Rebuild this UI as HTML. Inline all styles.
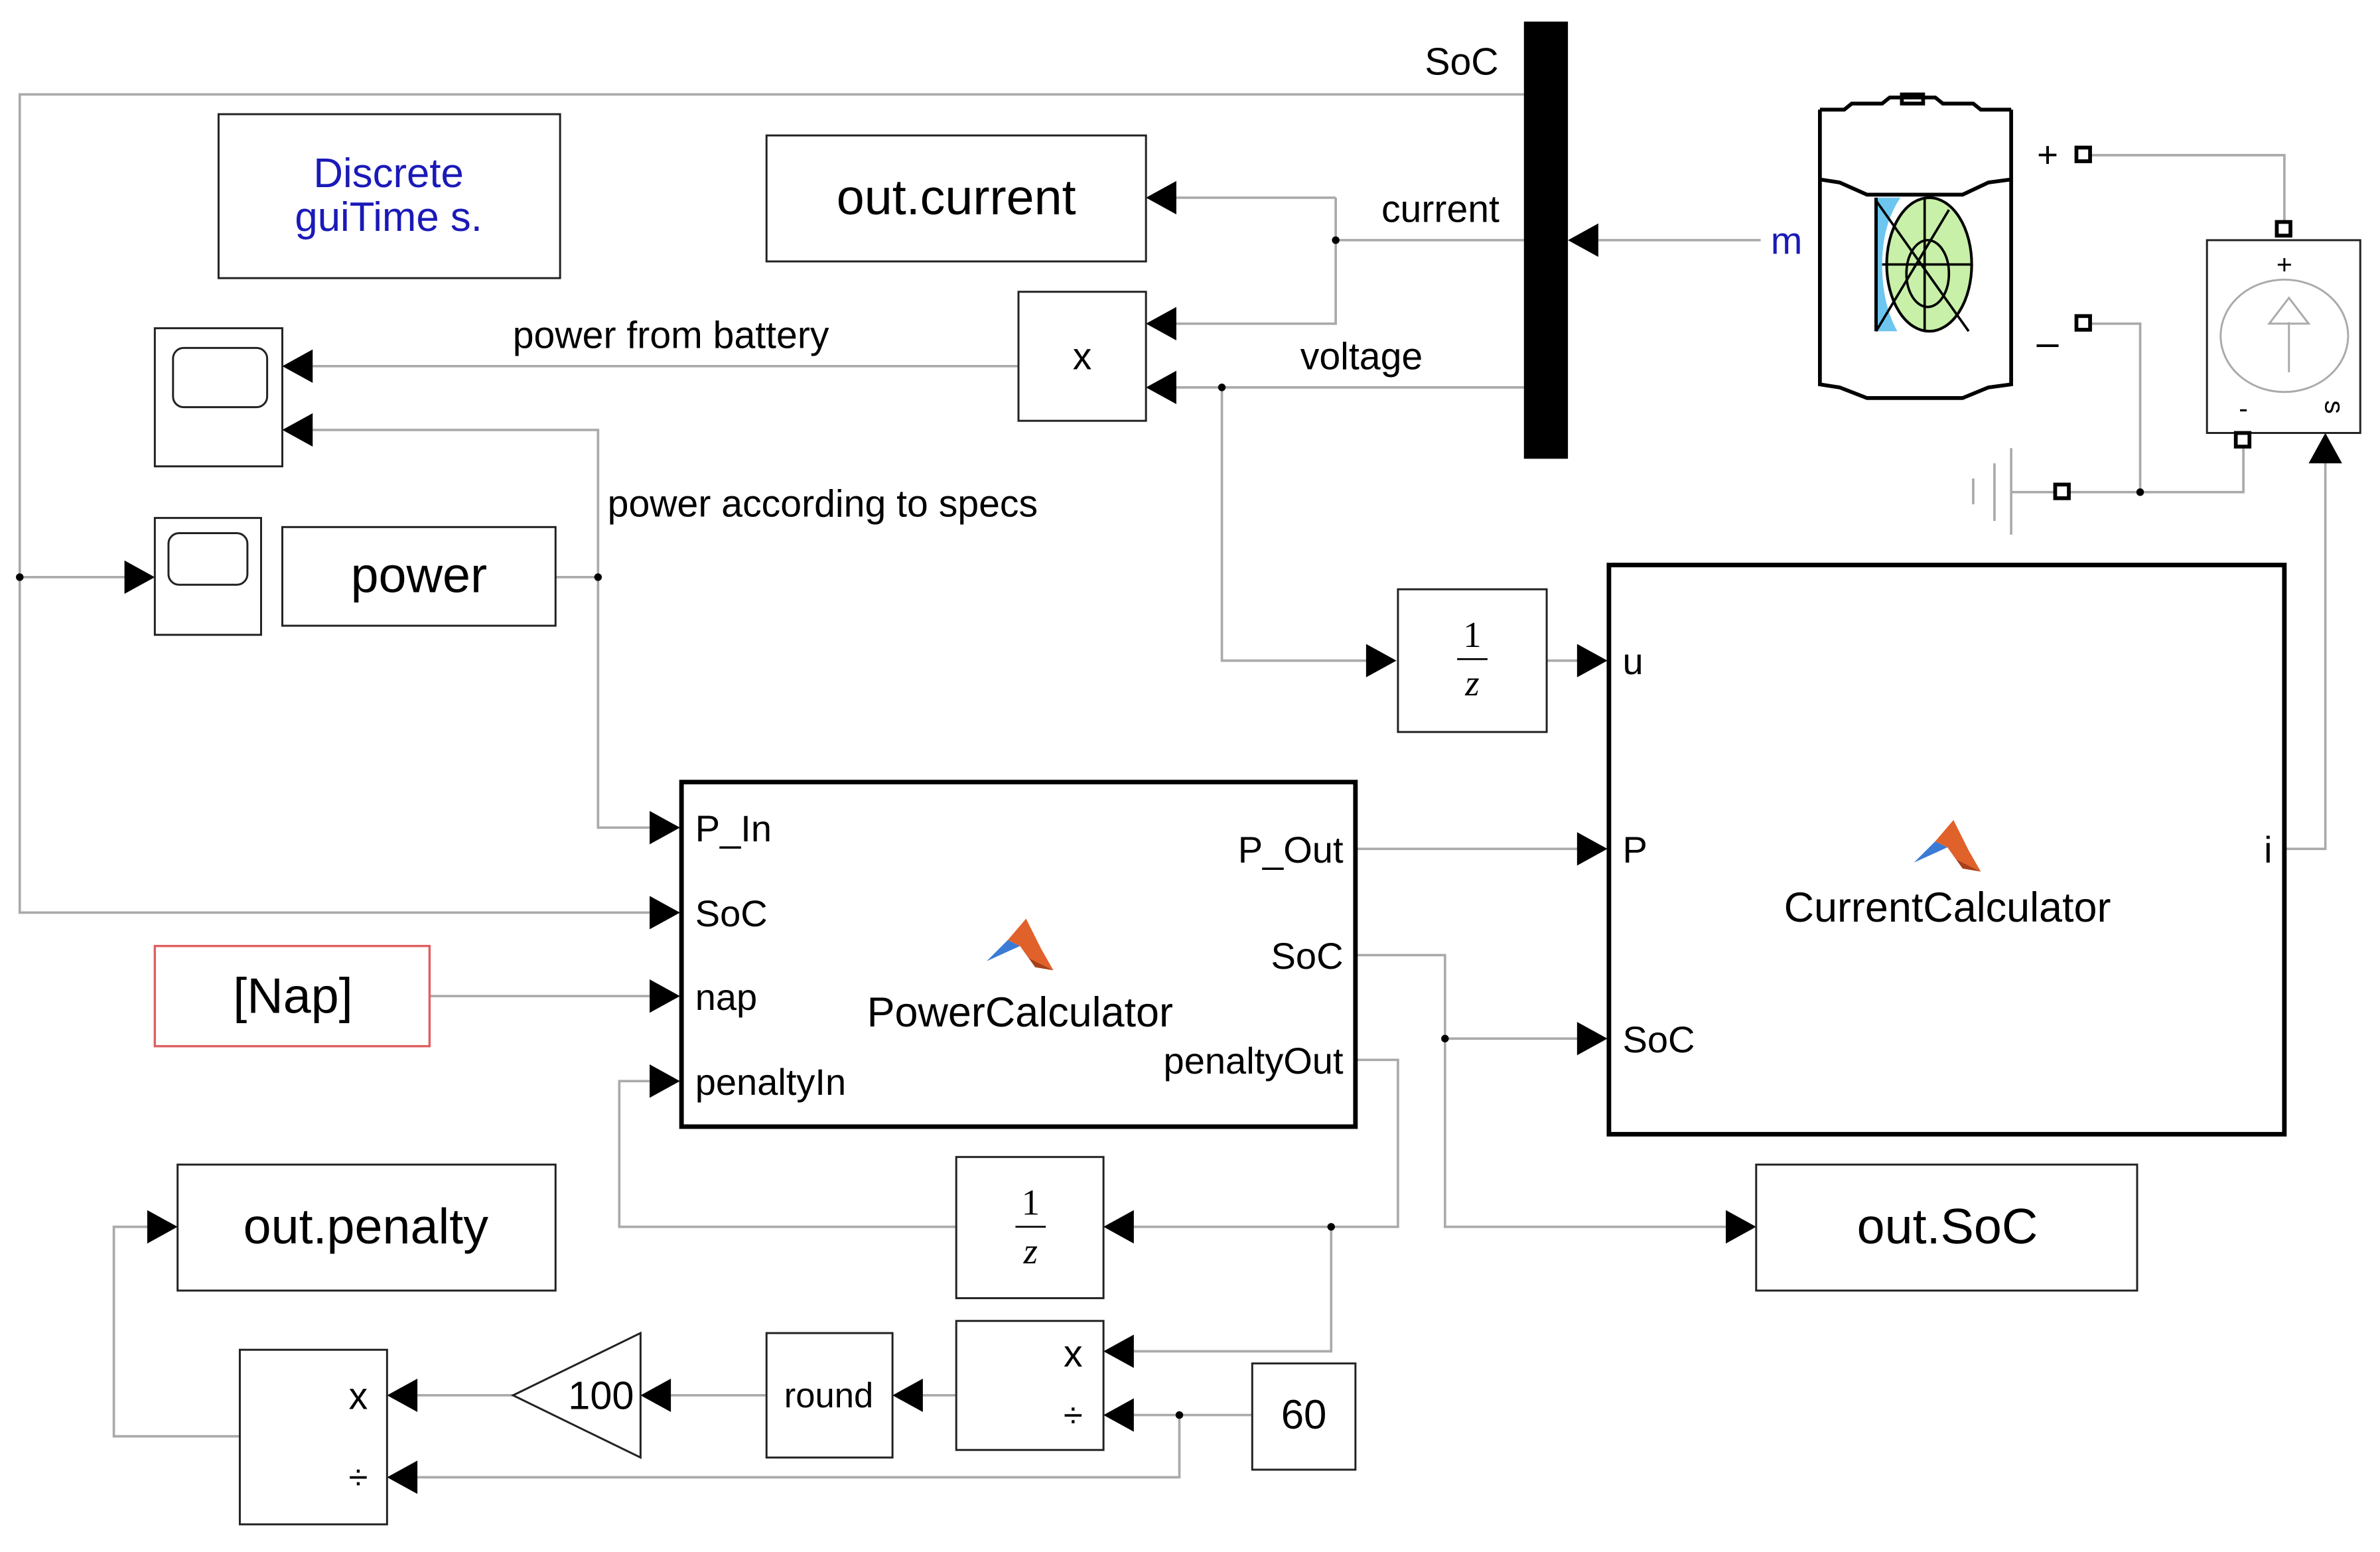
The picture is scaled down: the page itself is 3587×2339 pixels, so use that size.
<!DOCTYPE html>
<html><head><meta charset="utf-8"><style>html,body{margin:0;padding:0;background:#fff}svg{display:block}</style></head>
<body>
<svg width="3587" height="2339" viewBox="0 0 1568 1022" xmlns="http://www.w3.org/2000/svg" font-family="Liberation Sans, sans-serif">
<g fill="none" stroke="#aaa" stroke-width="1.6">
<polyline points="1004,62 13,62 13,601 430,601"/>
<polyline points="13,380 84,380"/>
<polyline points="1004,158 880,158"/>
<polyline points="1053,158 1160,158"/>
<polyline points="880,130 775,130"/>
<polyline points="880,130 880,213 775,213"/>
<polyline points="1004,255 775,255"/>
<polyline points="805,255 805,435 902,435"/>
<polyline points="671,241 206,241"/>
<polyline points="366,380 394,380 394,283 206,283"/>
<polyline points="394,380 394,545 430,545"/>
<polyline points="283,656 430,656"/>
<polyline points="893,559 1041,559"/>
<polyline points="893,629 952,629 952,808 1139,808"/>
<polyline points="952,684 1041,684"/>
<polyline points="893,698 921,698 921,808 747,808"/>
<polyline points="877,808 877,890 747,890"/>
<polyline points="630,808 408,808 408,712 430,712"/>
<polyline points="1019,435 1041,435"/>
<polyline points="1505,559 1532,559 1532,302"/>
<polyline points="1377,102 1505,102 1505,147"/>
<polyline points="1377,213 1410,213 1410,324"/>
<polyline points="1325,324 1354,324"/>
<polyline points="1362,324 1478,324 1478,294"/>
<line x1="1325" y1="295" x2="1325" y2="352"/>
<line x1="1314" y1="305" x2="1314" y2="343"/>
<line x1="1300" y1="315" x2="1300" y2="332"/>
<polyline points="630,919 608,919"/>
<polyline points="505,919 442,919"/>
<polyline points="338,919 275,919"/>
<polyline points="825,932 747,932"/>
<polyline points="777,932 777,973 275,973"/>
<polyline points="158,946 75,946 75,808 99,808"/>
</g>
<g fill="#000">
<circle cx="13" cy="380" r="2.5"/><circle cx="880" cy="158" r="2.5"/><circle cx="805" cy="255" r="2.5"/>
<circle cx="394" cy="380" r="2.5"/><circle cx="952" cy="684" r="2.5"/><circle cx="877" cy="808" r="2.5"/>
<circle cx="777" cy="932" r="2.5"/><circle cx="1410" cy="324" r="2.5"/>
<polygon points="428,590 448,601 428,612"/>
<polygon points="82,369 102,380 82,391"/>
<polygon points="900,424 920,435 900,446"/>
<polygon points="428,534 448,545 428,556"/>
<polygon points="428,645 448,656 428,667"/>
<polygon points="428,701 448,712 428,723"/>
<polygon points="1039,548 1059,559 1039,570"/>
<polygon points="1039,673 1059,684 1039,695"/>
<polygon points="1039,424 1059,435 1039,446"/>
<polygon points="1137,797 1157,808 1137,819"/>
<polygon points="97,797 117,808 97,819"/>
<polygon points="775,119 755,130 775,141"/>
<polygon points="775,202 755,213 775,224"/>
<polygon points="775,244 755,255 775,266"/>
<polygon points="1053,147 1033,158 1053,169"/>
<polygon points="206,230 186,241 206,252"/>
<polygon points="206,272 186,283 206,294"/>
<polygon points="747,797 727,808 747,819"/>
<polygon points="747,879 727,890 747,901"/>
<polygon points="747,921 727,932 747,943"/>
<polygon points="608,908 588,919 608,930"/>
<polygon points="442,908 422,919 442,930"/>
<polygon points="275,908 255,919 275,930"/>
<polygon points="275,962 255,973 275,984"/>
<polygon points="1521,305 1532,285 1543,305"/>
<rect x="1004" y="14" width="29" height="288"/>
</g>
<g fill="none" stroke="#222" stroke-width="1.3">
<rect x="144" y="75" width="225" height="108"/>
<rect x="505" y="89" width="250" height="83"/>
<rect x="671" y="192" width="84" height="85"/>
<rect x="102" y="216" width="84" height="91"/>
<rect x="114" y="229" width="62" height="39" rx="7"/>
<rect x="102" y="341" width="70" height="77"/>
<rect x="111" y="351" width="52" height="34" rx="7"/>
<rect x="186" y="347" width="180" height="65"/>
<rect x="921" y="388" width="98" height="94"/>
<rect x="630" y="762" width="97" height="93"/>
<rect x="117" y="767" width="249" height="83"/>
<rect x="1157" y="767" width="251" height="83"/>
<rect x="158" y="889" width="97" height="115"/>
<rect x="505" y="878" width="83" height="82"/>
<rect x="630" y="870" width="97" height="85"/>
<rect x="825" y="898" width="68" height="70"/>
<polygon points="338,919 422,878 422,960"/>
<rect x="1454" y="158" width="101" height="127"/>
</g>
<rect x="102" y="623" width="181" height="66" fill="none" stroke="#e06060" stroke-width="1.5"/>
<rect x="449" y="515" width="444" height="227" fill="none" stroke="#000" stroke-width="3"/>
<rect x="1060" y="372" width="445" height="375" fill="none" stroke="#000" stroke-width="3"/>
<g fill="none" stroke="#000" stroke-width="2.5">
<path d="M1199,72 L1199,253 L1212,255 L1230,262 L1293,262 L1310,255 L1325,253 L1325,72"/>
<path d="M1199,72 L1215,72 L1220,68 L1240,68 L1245,64 L1275,64 L1280,68 L1300,68 L1305,72 L1325,72"/>
<path d="M1199,118 L1212,120 L1230,128 L1293,128 L1310,120 L1325,118"/>
<rect x="1253" y="62" width="14" height="6"/>
</g>
<ellipse cx="1271" cy="174" rx="28" ry="44" fill="#c8f0a8" stroke="#000" stroke-width="1.8"/>
<path d="M1236,130 L1236,218 L1250,218 Q1240,200 1240,174 Q1240,148 1252,130 Z" fill="#6cc6f0"/>
<path d="M1236,130 L1236,218" stroke="#000" stroke-width="2.2"/>
<path d="M1236,132 L1297,218 M1236,218 L1284,138 M1240,174 L1299,174 M1268,130 L1268,218" stroke="#000" stroke-width="1.6" fill="none"/>
<ellipse cx="1270" cy="180" rx="14" ry="22" fill="none" stroke="#000" stroke-width="1.6"/>
<g fill="#fff" stroke="#000" stroke-width="2.5">
<rect x="1368" y="97" width="9" height="9"/><rect x="1368" y="208" width="9" height="9"/>
<rect x="1354" y="319" width="9" height="9"/><rect x="1500" y="146" width="9" height="9"/>
<rect x="1473" y="285" width="9" height="9"/>
</g>
<ellipse cx="1505" cy="221" rx="42" ry="37" fill="none" stroke="#aaa" stroke-width="1.3"/>
<path d="M1508,245 L1508,212 M1495,213 L1508,196 L1521,213 Z" fill="none" stroke="#aaa" stroke-width="1.3"/>
<g fill="#000">
<text x="963" y="49" font-size="25" text-anchor="middle">SoC</text>
<text x="949" y="146" font-size="25" text-anchor="middle">current</text>
<text x="897" y="243" font-size="25" text-anchor="middle">voltage</text>
<text x="442" y="229" font-size="25" text-anchor="middle">power from battery</text>
<text x="542" y="340" font-size="25" text-anchor="middle">power according to specs</text>
<text x="630" y="141" font-size="33" text-anchor="middle">out.current</text>
<text x="713" y="243" font-size="25" text-anchor="middle">x</text>
<text x="276" y="390" font-size="33" text-anchor="middle">power</text>
<text x="193" y="667" font-size="33" text-anchor="middle">[Nap]</text>
<text x="241" y="819" font-size="33" text-anchor="middle">out.penalty</text>
<text x="1283" y="819" font-size="33" text-anchor="middle">out.SoC</text>
<text x="458" y="554" font-size="24.5">P_In</text>
<text x="458" y="610" font-size="24.5">SoC</text>
<text x="458" y="665" font-size="24.5">nap</text>
<text x="458" y="721" font-size="24.5">penaltyIn</text>
<text x="885" y="568" font-size="24.5" text-anchor="end">P_Out</text>
<text x="885" y="638" font-size="24.5" text-anchor="end">SoC</text>
<text x="885" y="707" font-size="24.5" text-anchor="end">penaltyOut</text>
<text x="672" y="676" font-size="27.5" text-anchor="middle">PowerCalculator</text>
<text x="1069" y="444" font-size="24.5">u</text>
<text x="1069" y="568" font-size="24.5">P</text>
<text x="1069" y="693" font-size="24.5">SoC</text>
<text x="1497" y="568" font-size="24.5" text-anchor="end">i</text>
<text x="1283" y="607" font-size="27.5" text-anchor="middle">CurrentCalculator</text>
<text x="970" y="426" font-size="24" font-family="Liberation Serif, serif" text-anchor="middle">1</text>
<line x1="960" y1="434" x2="980" y2="434" stroke="#000" stroke-width="1.2"/>
<text x="970" y="458" font-size="24" font-family="Liberation Serif, serif" font-style="italic" text-anchor="middle">z</text>
<text x="679" y="800" font-size="24" font-family="Liberation Serif, serif" text-anchor="middle">1</text>
<line x1="669" y1="808" x2="689" y2="808" stroke="#000" stroke-width="1.2"/>
<text x="679" y="832" font-size="24" font-family="Liberation Serif, serif" font-style="italic" text-anchor="middle">z</text>
<text x="236" y="928" font-size="25" text-anchor="middle">x</text>
<text x="236" y="981" font-size="23" text-anchor="middle">÷</text>
<text x="707" y="900" font-size="25" text-anchor="middle">x</text>
<text x="707" y="940" font-size="23" text-anchor="middle">÷</text>
<text x="396" y="928" font-size="26" text-anchor="middle">100</text>
<text x="546" y="927" font-size="23" text-anchor="middle">round</text>
<text x="859" y="941" font-size="27" text-anchor="middle">60</text>
<text x="1349" y="110" font-size="24" text-anchor="middle">+</text>
<text x="1349" y="234" font-size="26" text-anchor="middle">–</text>
<text x="1505" y="180" font-size="18" text-anchor="middle">+</text>
<text x="1478" y="275" font-size="18" text-anchor="middle">-</text>
<text x="1532" y="268" font-size="18" text-anchor="middle" transform="rotate(90 1532 268)">s</text>
</g>
<text x="256" y="123" font-size="27" fill="#1a1ab8" text-anchor="middle">Discrete</text>
<text x="256" y="152" font-size="27" fill="#1a1ab8" text-anchor="middle">guiTime s.</text>
<text x="1177" y="167" font-size="25" fill="#1a1ab8" text-anchor="middle">m</text>
<g transform="translate(672,627)">
<path d="M-22,6 L-8,-8 L0,-4 Z" fill="#3a7bd5"/>
<path d="M-8,-8 L4,-22 L14,-2 L22,12 L6,4 L0,-4 Z" fill="#e0622a"/>
<path d="M0,-4 L6,4 L22,12 L10,10 Z" fill="#a8401a"/>
</g>
<g transform="translate(1283,562)">
<path d="M-22,6 L-8,-8 L0,-4 Z" fill="#3a7bd5"/>
<path d="M-8,-8 L4,-22 L14,-2 L22,12 L6,4 L0,-4 Z" fill="#e0622a"/>
<path d="M0,-4 L6,4 L22,12 L10,10 Z" fill="#a8401a"/>
</g>
</svg>
</body></html>
